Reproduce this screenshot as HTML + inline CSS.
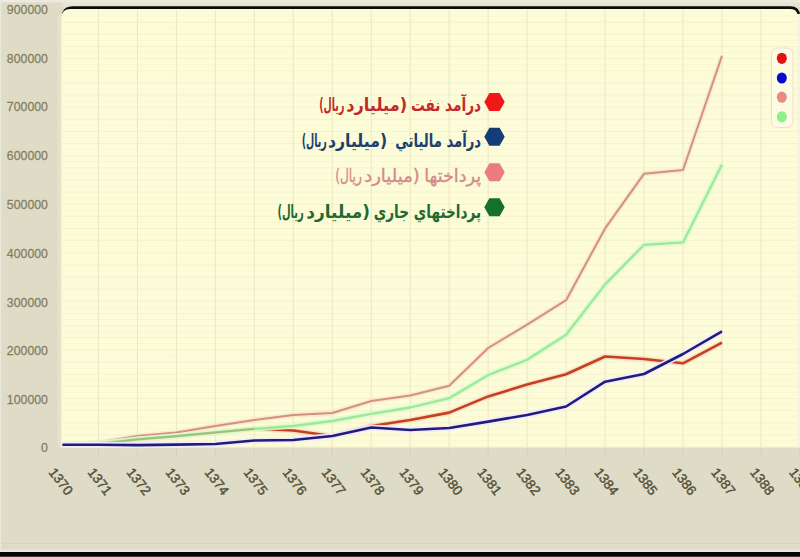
<!DOCTYPE html>
<html lang="fa">
<head>
<meta charset="utf-8">
<title>chart</title>
<style>
html,body{margin:0;padding:0;background:#dedbc7;}
body{width:800px;height:557px;overflow:hidden;position:relative;font-family:"Liberation Sans","DejaVu Sans",sans-serif;}
svg{position:absolute;left:0;top:0;display:block;}
.yl{font-family:"Liberation Sans",sans-serif;font-size:12.3px;fill:#857e61;stroke:#857e61;stroke-width:0.25px;}
.xl{font-family:"Liberation Sans",sans-serif;font-size:13.5px;fill:#57523a;stroke:#57523a;stroke-width:0.45px;}
.fa{font-family:"DejaVu Sans","Liberation Sans",sans-serif;font-size:17.8px;direction:rtl;unicode-bidi:embed;}
</style>
</head>
<body>
<svg width="800" height="557" viewBox="0 0 800 557">
<rect x="0" y="0" width="800" height="557" fill="#dedbc7"/>
<rect x="62" y="0" width="738" height="7" fill="#e6e3d1"/>
<rect x="0" y="0" width="800" height="2.4" fill="#eceadc"/>

<path d="M61.5,17 Q62,6.3 73,6.3 H790 Q800,6.3 800,16 V19 H797 V14 H64 Z" fill="#0a0a08"/>
<rect x="58" y="14" width="4" height="434" fill="#e4e1cd"/><rect x="796" y="14" width="4" height="434" fill="#f5f4e4"/><path d="M61.4,448 V18 Q61.4,9 70.4,9 H790.5 Q797.5,9 797.5,16 V448 Z" fill="#fdfcd9"/>
<line x1="62" x2="797.5" y1="447.00" y2="447.00" stroke="#f5f2ca" stroke-width="1"/>
<line x1="62" x2="797.5" y1="440.93" y2="440.93" stroke="#f9f7d2" stroke-width="1"/>
<line x1="62" x2="797.5" y1="434.86" y2="434.86" stroke="#f5f2ca" stroke-width="1"/>
<line x1="62" x2="797.5" y1="428.79" y2="428.79" stroke="#f9f7d2" stroke-width="1"/>
<line x1="62" x2="797.5" y1="422.73" y2="422.73" stroke="#f5f2ca" stroke-width="1"/>
<line x1="62" x2="797.5" y1="416.66" y2="416.66" stroke="#f9f7d2" stroke-width="1"/>
<line x1="62" x2="797.5" y1="410.59" y2="410.59" stroke="#f5f2ca" stroke-width="1"/>
<line x1="62" x2="797.5" y1="404.52" y2="404.52" stroke="#f9f7d2" stroke-width="1"/>
<line x1="62" x2="797.5" y1="398.45" y2="398.45" stroke="#f5f2ca" stroke-width="1"/>
<line x1="62" x2="797.5" y1="392.38" y2="392.38" stroke="#f9f7d2" stroke-width="1"/>
<line x1="62" x2="797.5" y1="386.31" y2="386.31" stroke="#f5f2ca" stroke-width="1"/>
<line x1="62" x2="797.5" y1="380.24" y2="380.24" stroke="#f9f7d2" stroke-width="1"/>
<line x1="62" x2="797.5" y1="374.18" y2="374.18" stroke="#f5f2ca" stroke-width="1"/>
<line x1="62" x2="797.5" y1="368.11" y2="368.11" stroke="#f9f7d2" stroke-width="1"/>
<line x1="62" x2="797.5" y1="362.04" y2="362.04" stroke="#f5f2ca" stroke-width="1"/>
<line x1="62" x2="797.5" y1="355.97" y2="355.97" stroke="#f9f7d2" stroke-width="1"/>
<line x1="62" x2="797.5" y1="349.90" y2="349.90" stroke="#f5f2ca" stroke-width="1"/>
<line x1="62" x2="797.5" y1="343.83" y2="343.83" stroke="#f9f7d2" stroke-width="1"/>
<line x1="62" x2="797.5" y1="337.76" y2="337.76" stroke="#f5f2ca" stroke-width="1"/>
<line x1="62" x2="797.5" y1="331.69" y2="331.69" stroke="#f9f7d2" stroke-width="1"/>
<line x1="62" x2="797.5" y1="325.62" y2="325.62" stroke="#f5f2ca" stroke-width="1"/>
<line x1="62" x2="797.5" y1="319.56" y2="319.56" stroke="#f9f7d2" stroke-width="1"/>
<line x1="62" x2="797.5" y1="313.49" y2="313.49" stroke="#f5f2ca" stroke-width="1"/>
<line x1="62" x2="797.5" y1="307.42" y2="307.42" stroke="#f9f7d2" stroke-width="1"/>
<line x1="62" x2="797.5" y1="301.35" y2="301.35" stroke="#f5f2ca" stroke-width="1"/>
<line x1="62" x2="797.5" y1="295.28" y2="295.28" stroke="#f9f7d2" stroke-width="1"/>
<line x1="62" x2="797.5" y1="289.21" y2="289.21" stroke="#f5f2ca" stroke-width="1"/>
<line x1="62" x2="797.5" y1="283.14" y2="283.14" stroke="#f9f7d2" stroke-width="1"/>
<line x1="62" x2="797.5" y1="277.08" y2="277.08" stroke="#f5f2ca" stroke-width="1"/>
<line x1="62" x2="797.5" y1="271.01" y2="271.01" stroke="#f9f7d2" stroke-width="1"/>
<line x1="62" x2="797.5" y1="264.94" y2="264.94" stroke="#f5f2ca" stroke-width="1"/>
<line x1="62" x2="797.5" y1="258.87" y2="258.87" stroke="#f9f7d2" stroke-width="1"/>
<line x1="62" x2="797.5" y1="252.80" y2="252.80" stroke="#f5f2ca" stroke-width="1"/>
<line x1="62" x2="797.5" y1="246.73" y2="246.73" stroke="#f9f7d2" stroke-width="1"/>
<line x1="62" x2="797.5" y1="240.66" y2="240.66" stroke="#f5f2ca" stroke-width="1"/>
<line x1="62" x2="797.5" y1="234.59" y2="234.59" stroke="#f9f7d2" stroke-width="1"/>
<line x1="62" x2="797.5" y1="228.53" y2="228.53" stroke="#f5f2ca" stroke-width="1"/>
<line x1="62" x2="797.5" y1="222.46" y2="222.46" stroke="#f9f7d2" stroke-width="1"/>
<line x1="62" x2="797.5" y1="216.39" y2="216.39" stroke="#f5f2ca" stroke-width="1"/>
<line x1="62" x2="797.5" y1="210.32" y2="210.32" stroke="#f9f7d2" stroke-width="1"/>
<line x1="62" x2="797.5" y1="204.25" y2="204.25" stroke="#f5f2ca" stroke-width="1"/>
<line x1="62" x2="797.5" y1="198.18" y2="198.18" stroke="#f9f7d2" stroke-width="1"/>
<line x1="62" x2="797.5" y1="192.11" y2="192.11" stroke="#f5f2ca" stroke-width="1"/>
<line x1="62" x2="797.5" y1="186.04" y2="186.04" stroke="#f9f7d2" stroke-width="1"/>
<line x1="62" x2="797.5" y1="179.98" y2="179.98" stroke="#f5f2ca" stroke-width="1"/>
<line x1="62" x2="797.5" y1="173.91" y2="173.91" stroke="#f9f7d2" stroke-width="1"/>
<line x1="62" x2="797.5" y1="167.84" y2="167.84" stroke="#f5f2ca" stroke-width="1"/>
<line x1="62" x2="797.5" y1="161.77" y2="161.77" stroke="#f9f7d2" stroke-width="1"/>
<line x1="62" x2="797.5" y1="155.70" y2="155.70" stroke="#f5f2ca" stroke-width="1"/>
<line x1="62" x2="797.5" y1="149.63" y2="149.63" stroke="#f9f7d2" stroke-width="1"/>
<line x1="62" x2="797.5" y1="143.56" y2="143.56" stroke="#f5f2ca" stroke-width="1"/>
<line x1="62" x2="797.5" y1="137.49" y2="137.49" stroke="#f9f7d2" stroke-width="1"/>
<line x1="62" x2="797.5" y1="131.43" y2="131.43" stroke="#f5f2ca" stroke-width="1"/>
<line x1="62" x2="797.5" y1="125.36" y2="125.36" stroke="#f9f7d2" stroke-width="1"/>
<line x1="62" x2="797.5" y1="119.29" y2="119.29" stroke="#f5f2ca" stroke-width="1"/>
<line x1="62" x2="797.5" y1="113.22" y2="113.22" stroke="#f9f7d2" stroke-width="1"/>
<line x1="62" x2="797.5" y1="107.15" y2="107.15" stroke="#f5f2ca" stroke-width="1"/>
<line x1="62" x2="797.5" y1="101.08" y2="101.08" stroke="#f9f7d2" stroke-width="1"/>
<line x1="62" x2="797.5" y1="95.01" y2="95.01" stroke="#f5f2ca" stroke-width="1"/>
<line x1="62" x2="797.5" y1="88.94" y2="88.94" stroke="#f9f7d2" stroke-width="1"/>
<line x1="62" x2="797.5" y1="82.88" y2="82.88" stroke="#f5f2ca" stroke-width="1"/>
<line x1="62" x2="797.5" y1="76.81" y2="76.81" stroke="#f9f7d2" stroke-width="1"/>
<line x1="62" x2="797.5" y1="70.74" y2="70.74" stroke="#f5f2ca" stroke-width="1"/>
<line x1="62" x2="797.5" y1="64.67" y2="64.67" stroke="#f9f7d2" stroke-width="1"/>
<line x1="62" x2="797.5" y1="58.60" y2="58.60" stroke="#f5f2ca" stroke-width="1"/>
<line x1="62" x2="797.5" y1="52.53" y2="52.53" stroke="#f9f7d2" stroke-width="1"/>
<line x1="62" x2="797.5" y1="46.46" y2="46.46" stroke="#f5f2ca" stroke-width="1"/>
<line x1="62" x2="797.5" y1="40.39" y2="40.39" stroke="#f9f7d2" stroke-width="1"/>
<line x1="62" x2="797.5" y1="34.32" y2="34.32" stroke="#f5f2ca" stroke-width="1"/>
<line x1="62" x2="797.5" y1="28.26" y2="28.26" stroke="#f9f7d2" stroke-width="1"/>
<line x1="62" x2="797.5" y1="22.19" y2="22.19" stroke="#f5f2ca" stroke-width="1"/>
<line x1="62" x2="797.5" y1="16.12" y2="16.12" stroke="#f9f7d2" stroke-width="1"/>
<line x1="98.47" x2="98.47" y1="9.5" y2="447" stroke="#ece9c4" stroke-width="1.1"/>
<line x1="137.44" x2="137.44" y1="9.5" y2="447" stroke="#ece9c4" stroke-width="1.1"/>
<line x1="176.41" x2="176.41" y1="9.5" y2="447" stroke="#ece9c4" stroke-width="1.1"/>
<line x1="215.38" x2="215.38" y1="9.5" y2="447" stroke="#ece9c4" stroke-width="1.1"/>
<line x1="254.35" x2="254.35" y1="9.5" y2="447" stroke="#ece9c4" stroke-width="1.1"/>
<line x1="293.32" x2="293.32" y1="9.5" y2="447" stroke="#ece9c4" stroke-width="1.1"/>
<line x1="332.29" x2="332.29" y1="9.5" y2="447" stroke="#ece9c4" stroke-width="1.1"/>
<line x1="371.26" x2="371.26" y1="9.5" y2="447" stroke="#ece9c4" stroke-width="1.1"/>
<line x1="410.23" x2="410.23" y1="9.5" y2="447" stroke="#ece9c4" stroke-width="1.1"/>
<line x1="449.20" x2="449.20" y1="9.5" y2="447" stroke="#ece9c4" stroke-width="1.1"/>
<line x1="488.17" x2="488.17" y1="9.5" y2="447" stroke="#ece9c4" stroke-width="1.1"/>
<line x1="527.14" x2="527.14" y1="9.5" y2="447" stroke="#ece9c4" stroke-width="1.1"/>
<line x1="566.11" x2="566.11" y1="9.5" y2="447" stroke="#ece9c4" stroke-width="1.1"/>
<line x1="605.08" x2="605.08" y1="9.5" y2="447" stroke="#ece9c4" stroke-width="1.1"/>
<line x1="644.05" x2="644.05" y1="9.5" y2="447" stroke="#ece9c4" stroke-width="1.1"/>
<line x1="683.02" x2="683.02" y1="9.5" y2="447" stroke="#ece9c4" stroke-width="1.1"/>
<line x1="721.99" x2="721.99" y1="9.5" y2="447" stroke="#ece9c4" stroke-width="1.1"/>
<line x1="760.96" x2="760.96" y1="9.5" y2="447" stroke="#ece9c4" stroke-width="1.1"/>
<rect x="0" y="447.5" width="800" height="110" fill="#dedbc7"/>
<rect x="0" y="543" width="800" height="1" fill="#d8d4bf"/>
<rect x="0" y="549.6" width="800" height="2.4" fill="#e9e7d9"/>
<rect x="0" y="0" width="1.2" height="552" fill="#eae8d9"/>
<rect x="0" y="552" width="800" height="4" fill="#040404"/>
<rect x="0" y="556" width="800" height="1" fill="#3a3a3a"/>
<line x1="98.47" x2="98.47" y1="448" y2="458" stroke="#d5d1bb" stroke-width="1"/>
<line x1="137.44" x2="137.44" y1="448" y2="458" stroke="#d5d1bb" stroke-width="1"/>
<line x1="176.41" x2="176.41" y1="448" y2="458" stroke="#d5d1bb" stroke-width="1"/>
<line x1="215.38" x2="215.38" y1="448" y2="458" stroke="#d5d1bb" stroke-width="1"/>
<line x1="254.35" x2="254.35" y1="448" y2="458" stroke="#d5d1bb" stroke-width="1"/>
<line x1="293.32" x2="293.32" y1="448" y2="458" stroke="#d5d1bb" stroke-width="1"/>
<line x1="332.29" x2="332.29" y1="448" y2="458" stroke="#d5d1bb" stroke-width="1"/>
<line x1="371.26" x2="371.26" y1="448" y2="458" stroke="#d5d1bb" stroke-width="1"/>
<line x1="410.23" x2="410.23" y1="448" y2="458" stroke="#d5d1bb" stroke-width="1"/>
<line x1="449.20" x2="449.20" y1="448" y2="458" stroke="#d5d1bb" stroke-width="1"/>
<line x1="488.17" x2="488.17" y1="448" y2="458" stroke="#d5d1bb" stroke-width="1"/>
<line x1="527.14" x2="527.14" y1="448" y2="458" stroke="#d5d1bb" stroke-width="1"/>
<line x1="566.11" x2="566.11" y1="448" y2="458" stroke="#d5d1bb" stroke-width="1"/>
<line x1="605.08" x2="605.08" y1="448" y2="458" stroke="#d5d1bb" stroke-width="1"/>
<line x1="644.05" x2="644.05" y1="448" y2="458" stroke="#d5d1bb" stroke-width="1"/>
<line x1="683.02" x2="683.02" y1="448" y2="458" stroke="#d5d1bb" stroke-width="1"/>
<line x1="721.99" x2="721.99" y1="448" y2="458" stroke="#d5d1bb" stroke-width="1"/>
<line x1="760.96" x2="760.96" y1="448" y2="458" stroke="#d5d1bb" stroke-width="1"/>
<line x1="799.93" x2="799.93" y1="448" y2="458" stroke="#d5d1bb" stroke-width="1"/>
<polyline points="62.5,445.0 98.5,442.5 137.4,436.0 176.4,432.5 215.4,426.0 254.3,420.0 293.3,415.0 332.3,413.0 371.3,401.0 410.2,395.5 449.2,385.7 488.2,348.0 527.1,324.6 566.1,300.2 605.1,228.4 644.0,173.8 683.0,170.0 722.0,55.7" fill="none" stroke="#f8dcc4" stroke-width="5" stroke-linejoin="round" stroke-linecap="butt" opacity="0.55"/>
<polyline points="62.5,445.0 98.5,442.5 137.4,436.0 176.4,432.5 215.4,426.0 254.3,420.0 293.3,415.0 332.3,413.0 371.3,401.0 410.2,395.5 449.2,385.7 488.2,348.0 527.1,324.6 566.1,300.2 605.1,228.4 644.0,173.8 683.0,170.0 722.0,55.7" fill="none" stroke="#d4917f" stroke-width="2.0" stroke-linejoin="round" stroke-linecap="butt"/>
<polyline points="62.5,445.0 98.5,444.0 137.4,439.6 176.4,436.3 215.4,432.5 254.3,428.8 293.3,430.5 332.3,436.0 371.3,426.0 410.2,420.0 449.2,412.6 488.2,396.4 527.1,384.6 566.1,374.2 605.1,356.5 644.0,359.0 683.0,363.3 722.0,342.7" fill="none" stroke="#f8ccbc" stroke-width="5.5" stroke-linejoin="round" stroke-linecap="butt" opacity="0.55"/>
<polyline points="62.5,445.0 98.5,444.0 137.4,439.6 176.4,436.3 215.4,432.5 254.3,428.8 293.3,430.5 332.3,436.0 371.3,426.0 410.2,420.0 449.2,412.6 488.2,396.4 527.1,384.6 566.1,374.2 605.1,356.5 644.0,359.0 683.0,363.3 722.0,342.7" fill="none" stroke="#c4401f" stroke-width="2.6" stroke-linejoin="round" stroke-linecap="butt"/>
<polyline points="62.5,444.5 98.5,443.5 137.4,439.2 176.4,436.0 215.4,432.3 254.3,428.8 293.3,426.0 332.3,421.0 371.3,413.8 410.2,407.5 449.2,398.2 488.2,375.0 527.1,359.8 566.1,334.7 605.1,284.4 644.0,244.8 683.0,242.4 722.0,164.5" fill="none" stroke="#dcfbd0" stroke-width="5.5" stroke-linejoin="round" stroke-linecap="butt" opacity="0.9"/>
<polyline points="62.5,444.5 98.5,443.5 137.4,439.2 176.4,436.0 215.4,432.3 254.3,428.8 293.3,426.0 332.3,421.0 371.3,413.8 410.2,407.5 449.2,398.2 488.2,375.0 527.1,359.8 566.1,334.7 605.1,284.4 644.0,244.8 683.0,242.4 722.0,164.5" fill="none" stroke="#9cea94" stroke-width="2.3" stroke-linejoin="round" stroke-linecap="butt"/>
<polyline points="62.5,445.0 98.5,444.0 137.4,439.6 176.4,436.3 215.4,432.5 254.3,428.8" fill="none" stroke="#b05030" stroke-width="2" opacity="0.28"/>
<polyline points="62.5,444.8 98.5,444.8 137.4,445.1 176.4,444.6 215.4,444.0 254.3,440.5 293.3,440.0 332.3,436.0 371.3,427.5 410.2,430.0 449.2,428.0 488.2,421.6 527.1,415.0 566.1,406.5 605.1,381.7 644.0,374.0 683.0,354.0 722.0,331.4" fill="none" stroke="#f0eafd" stroke-width="6.2" stroke-linejoin="round" stroke-linecap="butt" opacity="0.92"/>
<polyline points="62.5,444.8 98.5,444.8 137.4,445.1 176.4,444.6 215.4,444.0 254.3,440.5 293.3,440.0 332.3,436.0 371.3,427.5 410.2,430.0 449.2,428.0 488.2,421.6 527.1,415.0 566.1,406.5 605.1,381.7 644.0,374.0 683.0,354.0 722.0,331.4" fill="none" stroke="#221c78" stroke-width="2.6" stroke-linejoin="round" stroke-linecap="butt"/>
<text class="yl" transform="translate(47.9,452.05) scale(1,1.08)" x="0" y="0" text-anchor="end">0</text>
<text class="yl" transform="translate(47.9,404.32) scale(1,1.08)" x="0" y="0" text-anchor="end">100000</text>
<text class="yl" transform="translate(47.9,355.49) scale(1,1.08)" x="0" y="0" text-anchor="end">200000</text>
<text class="yl" transform="translate(47.9,306.66) scale(1,1.08)" x="0" y="0" text-anchor="end">300000</text>
<text class="yl" transform="translate(47.9,257.83) scale(1,1.08)" x="0" y="0" text-anchor="end">400000</text>
<text class="yl" transform="translate(47.9,209.00) scale(1,1.08)" x="0" y="0" text-anchor="end">500000</text>
<text class="yl" transform="translate(47.9,160.17) scale(1,1.08)" x="0" y="0" text-anchor="end">600000</text>
<text class="yl" transform="translate(47.9,111.34) scale(1,1.08)" x="0" y="0" text-anchor="end">700000</text>
<text class="yl" transform="translate(47.9,62.51) scale(1,1.08)" x="0" y="0" text-anchor="end">800000</text>
<text class="yl" transform="translate(47.9,13.68) scale(1,1.08)" x="0" y="0" text-anchor="end">900000</text>
<text class="xl" transform="translate(48.1,472.4) rotate(52.5)" x="0" y="0">1370</text>
<text class="xl" transform="translate(87.1,472.4) rotate(52.5)" x="0" y="0">1371</text>
<text class="xl" transform="translate(126.0,472.4) rotate(52.5)" x="0" y="0">1372</text>
<text class="xl" transform="translate(165.0,472.4) rotate(52.5)" x="0" y="0">1373</text>
<text class="xl" transform="translate(204.0,472.4) rotate(52.5)" x="0" y="0">1374</text>
<text class="xl" transform="translate(242.9,472.4) rotate(52.5)" x="0" y="0">1375</text>
<text class="xl" transform="translate(281.9,472.4) rotate(52.5)" x="0" y="0">1376</text>
<text class="xl" transform="translate(320.9,472.4) rotate(52.5)" x="0" y="0">1377</text>
<text class="xl" transform="translate(359.9,472.4) rotate(52.5)" x="0" y="0">1378</text>
<text class="xl" transform="translate(398.8,472.4) rotate(52.5)" x="0" y="0">1379</text>
<text class="xl" transform="translate(437.8,472.4) rotate(52.5)" x="0" y="0">1380</text>
<text class="xl" transform="translate(476.8,472.4) rotate(52.5)" x="0" y="0">1381</text>
<text class="xl" transform="translate(515.7,472.4) rotate(52.5)" x="0" y="0">1382</text>
<text class="xl" transform="translate(554.7,472.4) rotate(52.5)" x="0" y="0">1383</text>
<text class="xl" transform="translate(593.7,472.4) rotate(52.5)" x="0" y="0">1384</text>
<text class="xl" transform="translate(632.6,472.4) rotate(52.5)" x="0" y="0">1385</text>
<text class="xl" transform="translate(671.6,472.4) rotate(52.5)" x="0" y="0">1386</text>
<text class="xl" transform="translate(710.6,472.4) rotate(52.5)" x="0" y="0">1387</text>
<text class="xl" transform="translate(749.6,472.4) rotate(52.5)" x="0" y="0">1388</text>
<text class="xl" transform="translate(788.5,472.4) rotate(52.5)" x="0" y="0">1389</text>
<rect x="771.5" y="48" width="21.5" height="79.5" rx="6" ry="6" fill="#fdfce2" stroke="#f3dccf" stroke-width="1"/>
<ellipse cx="781.8" cy="58.3" rx="5" ry="5.6" fill="#dd1414"/>
<ellipse cx="781.8" cy="78.0" rx="5" ry="5.6" fill="#0a0acc"/>
<ellipse cx="781.8" cy="97.2" rx="5" ry="5.6" fill="#ea8a84"/>
<ellipse cx="781.8" cy="116.8" rx="5" ry="5.6" fill="#8cf08c"/>
<polygon points="484.3,102.0 489.4,93.0 499.6,93.0 504.7,102.0 499.6,111.0 489.4,111.0" fill="#f01818"/>
<text class="fa" x="481.1" y="110.8" text-anchor="start" direction="rtl" font-weight="bold" fill="#c22a2a" textLength="70.2" lengthAdjust="spacingAndGlyphs">درآمد نفت</text>
<text class="fa" x="407.1" y="110.8" text-anchor="start" direction="rtl" font-weight="bold" fill="#c22a2a" textLength="60.9" lengthAdjust="spacingAndGlyphs">(میلیارد</text>
<text class="fa" x="344.4" y="110.8" text-anchor="start" direction="rtl" font-weight="bold" fill="#c22a2a" textLength="25.2" lengthAdjust="spacingAndGlyphs">ریال)</text>
<polygon points="484.3,136.8 489.4,127.8 499.6,127.8 504.7,136.8 499.6,145.8 489.4,145.8" fill="#143c78"/>
<text class="fa" x="481.1" y="147.4" text-anchor="start" direction="rtl" font-weight="bold" fill="#1d3f6e" textLength="85.9" lengthAdjust="spacingAndGlyphs">درآمد مالیاتي</text>
<text class="fa" x="387.1" y="147.4" text-anchor="start" direction="rtl" font-weight="bold" fill="#1d3f6e" textLength="59.2" lengthAdjust="spacingAndGlyphs">(میلیارد</text>
<text class="fa" x="326.8" y="147.4" text-anchor="start" direction="rtl" font-weight="bold" fill="#1d3f6e" textLength="25.1" lengthAdjust="spacingAndGlyphs">ریال)</text>
<polygon points="484.3,172.2 489.4,163.2 499.6,163.2 504.7,172.2 499.6,181.2 489.4,181.2" fill="#ea7c82"/>
<text class="fa" x="481.1" y="182.2" text-anchor="start" direction="rtl" font-weight="normal" fill="#d48a8a" stroke="#d48a8a" stroke-width="0.35" textLength="56.9" lengthAdjust="spacingAndGlyphs">پرداختها</text>
<text class="fa" x="419.8" y="182.2" text-anchor="start" direction="rtl" font-weight="normal" fill="#d48a8a" stroke="#d48a8a" stroke-width="0.35" textLength="55.6" lengthAdjust="spacingAndGlyphs">(میلیارد</text>
<text class="fa" x="361.8" y="182.2" text-anchor="start" direction="rtl" font-weight="normal" fill="#d48a8a" stroke="#d48a8a" stroke-width="0.35" textLength="26.6" lengthAdjust="spacingAndGlyphs">ریال)</text>
<polygon points="484.3,207.3 489.4,198.3 499.6,198.3 504.7,207.3 499.6,216.3 489.4,216.3" fill="#14702a"/>
<text class="fa" x="481.1" y="218.0" text-anchor="start" direction="rtl" font-weight="bold" fill="#1f6a30" textLength="107.4" lengthAdjust="spacingAndGlyphs">پرداختهاي جاري</text>
<text class="fa" x="370.1" y="218.0" text-anchor="start" direction="rtl" font-weight="bold" fill="#1f6a30" textLength="63.9" lengthAdjust="spacingAndGlyphs">(میلیارد</text>
<text class="fa" x="303.8" y="218.0" text-anchor="start" direction="rtl" font-weight="bold" fill="#1f6a30" textLength="26.4" lengthAdjust="spacingAndGlyphs">ریال)</text>
</svg>
</body>
</html>
